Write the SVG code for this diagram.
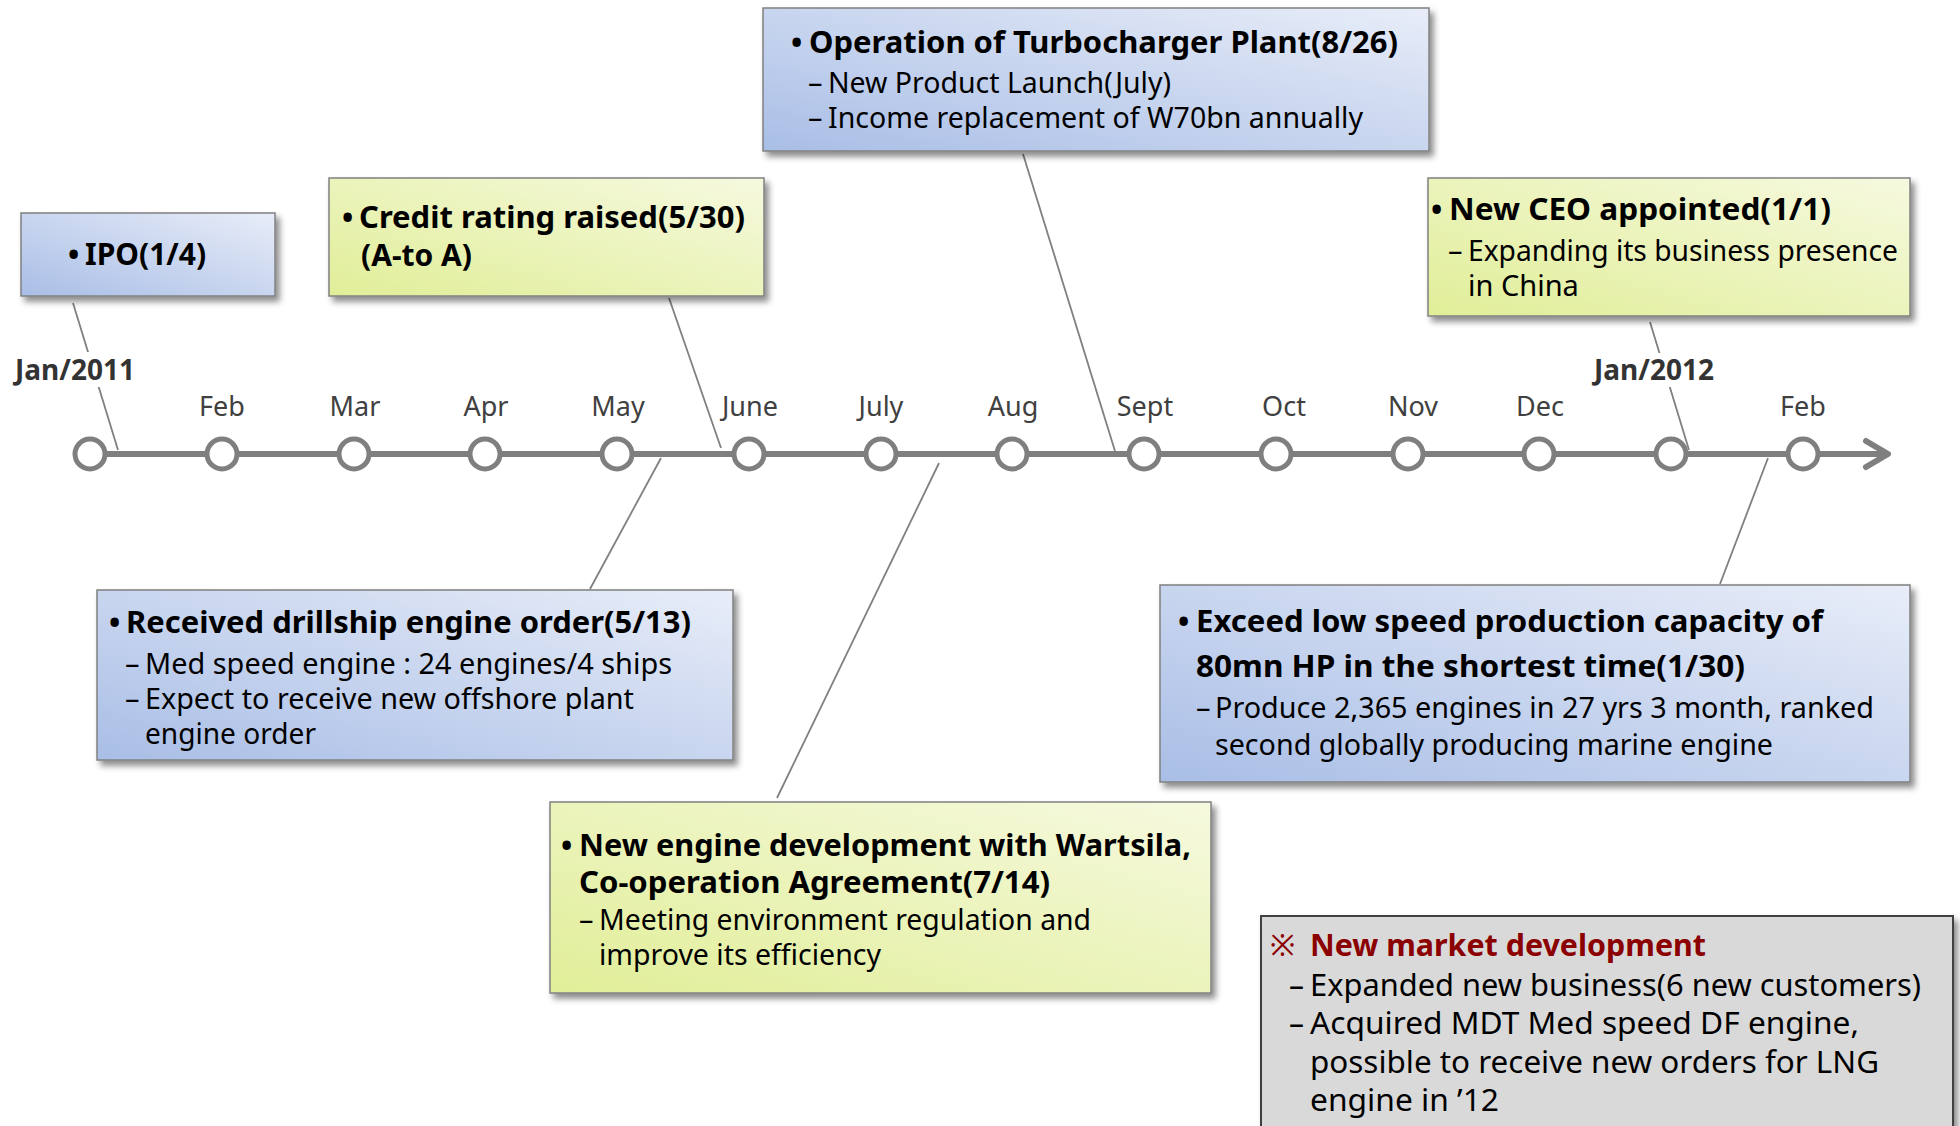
<svg xmlns="http://www.w3.org/2000/svg" width="1960" height="1126" viewBox="0 0 1960 1126">
<defs>
<linearGradient id="gBlue" x1="0" y1="1" x2="1" y2="0">
<stop offset="0" stop-color="#a9bee6"/>
<stop offset="1" stop-color="#e8edf8"/>
</linearGradient>
<linearGradient id="gYel" x1="0" y1="1" x2="1" y2="0">
<stop offset="0" stop-color="#e1ee98"/>
<stop offset="1" stop-color="#f6f9df"/>
</linearGradient>
<filter id="sh" x="-5%" y="-10%" width="115%" height="130%">
<feDropShadow dx="4" dy="5" stdDeviation="3" flood-color="#000" flood-opacity="0.45"/>
</filter>
</defs>
<style>
text{font-family:"Noto Sans","Noto Sans CJK KR",sans-serif;fill:#000}
.t{font-size:30px;font-weight:bold}
.b{font-size:29px}
.m{font-size:30px}
.mon{font-size:27px;fill:#404040}
.jan{font-size:28px;font-weight:bold;fill:#333}
.blue{fill:url(#gBlue);stroke:#808080;stroke-width:1.5}
.yel{fill:url(#gYel);stroke:#808080;stroke-width:1.5}
.con{stroke:#808080;stroke-width:1.8;fill:none}
.node circle{fill:#fff;stroke:#7f7f7f;stroke-width:5}
</style>
<rect width="1960" height="1126" fill="#fff"/>

<g id="connectors">
<line class="con" x1="73" y1="303" x2="118" y2="450"/>
<line class="con" x1="669" y1="298" x2="721" y2="448"/>
<line class="con" x1="1023" y1="154" x2="1115" y2="451"/>
<line class="con" x1="1650" y1="322" x2="1689" y2="450"/>
<line class="con" x1="661" y1="458" x2="590" y2="589"/>
<line class="con" x1="939" y1="463" x2="777" y2="798"/>
<line class="con" x1="1768" y1="458" x2="1720" y2="584"/>
</g>

<g id="timeline">
<line x1="90" y1="454" x2="1886" y2="454" stroke="#7f7f7f" stroke-width="6"/>
<polyline points="1866,441 1888,454 1866,467" fill="none" stroke="#7f7f7f" stroke-width="6" stroke-linecap="round" stroke-linejoin="round"/>
<g class="node">
<circle cx="90" cy="454" r="15"/>
<circle cx="222" cy="454" r="15"/>
<circle cx="354" cy="454" r="15"/>
<circle cx="485" cy="454" r="15"/>
<circle cx="617" cy="454" r="15"/>
<circle cx="749" cy="454" r="15"/>
<circle cx="881" cy="454" r="15"/>
<circle cx="1012" cy="454" r="15"/>
<circle cx="1144" cy="454" r="15"/>
<circle cx="1276" cy="454" r="15"/>
<circle cx="1408" cy="454" r="15"/>
<circle cx="1539" cy="454" r="15"/>
<circle cx="1671" cy="454" r="15"/>
<circle cx="1803" cy="454" r="15"/>
</g>
</g>

<g id="labels" text-anchor="middle">
<rect x="8" y="352" width="134" height="35" fill="#fff"/>
<text class="jan" x="75" y="380">Jan/2011</text>
<rect x="1587" y="353" width="134" height="34" fill="#fff"/>
<text class="jan" x="1654" y="380">Jan/2012</text>
<text class="mon" x="222" y="416">Feb</text>
<text class="mon" x="355" y="416">Mar</text>
<text class="mon" x="486" y="416">Apr</text>
<text class="mon" x="618" y="416">May</text>
<text class="mon" x="750" y="416">June</text>
<text class="mon" x="881" y="416">July</text>
<text class="mon" x="1013" y="416">Aug</text>
<text class="mon" x="1145" y="416">Sept</text>
<text class="mon" x="1284" y="416">Oct</text>
<text class="mon" x="1413" y="416">Nov</text>
<text class="mon" x="1540" y="416">Dec</text>
<text class="mon" x="1803" y="416">Feb</text>
</g>

<g id="ipo">
<rect class="blue" x="21" y="213" width="254" height="83" filter="url(#sh)"/>
<text class="t" x="68" y="265">•</text>
<text class="t" x="85" y="265">IPO(1/4)</text>
</g>

<g id="credit">
<rect class="yel" x="329" y="178" width="435" height="118" filter="url(#sh)"/>
<text class="t" x="342" y="228">•</text>
<text class="t" x="359" y="228" textLength="386" lengthAdjust="spacingAndGlyphs">Credit rating raised(5/30)</text>
<text class="t" x="361" y="266">(A-to A)</text>
</g>

<g id="turbo">
<rect class="blue" x="763" y="8" width="666" height="143" filter="url(#sh)"/>
<text class="t" x="791" y="53">•</text>
<text class="t" x="809" y="53" textLength="589" lengthAdjust="spacingAndGlyphs">Operation of Turbocharger Plant(8/26)</text>
<text class="b" x="808" y="93">–</text>
<text class="b" x="828" y="93" textLength="343" lengthAdjust="spacingAndGlyphs">New Product Launch(July)</text>
<text class="b" x="808" y="128">–</text>
<text class="b" x="828" y="128" textLength="535" lengthAdjust="spacingAndGlyphs">Income replacement of W70bn annually</text>
</g>

<g id="ceo">
<rect class="yel" x="1428" y="178" width="482" height="138" filter="url(#sh)"/>
<text class="t" x="1431" y="220">•</text>
<text class="t" x="1449" y="220" textLength="382" lengthAdjust="spacingAndGlyphs">New CEO appointed(1/1)</text>
<text class="b" x="1448" y="261">–</text>
<text class="b" x="1468" y="261" textLength="430" lengthAdjust="spacingAndGlyphs">Expanding its business presence</text>
<text class="b" x="1468" y="296">in China</text>
</g>

<g id="drillship">
<rect class="blue" x="97" y="590" width="636" height="170" filter="url(#sh)"/>
<text class="t" x="109" y="633">•</text>
<text class="t" x="126" y="633" textLength="565" lengthAdjust="spacingAndGlyphs">Received drillship engine order(5/13)</text>
<text class="b" x="125" y="674">–</text>
<text class="b" x="145" y="674" textLength="527" lengthAdjust="spacingAndGlyphs">Med speed engine : 24 engines/4 ships</text>
<text class="b" x="125" y="709">–</text>
<text class="b" x="145" y="709" textLength="489" lengthAdjust="spacingAndGlyphs">Expect to receive new offshore plant</text>
<text class="b" x="145" y="744" textLength="171" lengthAdjust="spacingAndGlyphs">engine order</text>
</g>

<g id="wartsila">
<rect class="yel" x="550" y="802" width="661" height="191" filter="url(#sh)"/>
<text class="t" x="561" y="856">•</text>
<text class="t" x="579" y="856" textLength="612" lengthAdjust="spacingAndGlyphs">New engine development with Wartsila,</text>
<text class="t" x="579" y="893" textLength="471" lengthAdjust="spacingAndGlyphs">Co-operation Agreement(7/14)</text>
<text class="b" x="579" y="930">–</text>
<text class="b" x="599" y="930" textLength="492" lengthAdjust="spacingAndGlyphs">Meeting environment regulation and</text>
<text class="b" x="599" y="965" textLength="282" lengthAdjust="spacingAndGlyphs">improve its efficiency</text>
</g>

<g id="exceed">
<rect class="blue" x="1160" y="585" width="750" height="197" filter="url(#sh)"/>
<text class="t" x="1178" y="632">•</text>
<text class="t" x="1196" y="632" textLength="627" lengthAdjust="spacingAndGlyphs">Exceed low speed production capacity of</text>
<text class="t" x="1196" y="677" textLength="549" lengthAdjust="spacingAndGlyphs">80mn HP in the shortest time(1/30)</text>
<text class="b" x="1196" y="718">–</text>
<text class="b" x="1215" y="718" textLength="659" lengthAdjust="spacingAndGlyphs">Produce 2,365 engines in 27 yrs 3 month, ranked</text>
<text class="b" x="1215" y="755" textLength="558" lengthAdjust="spacingAndGlyphs">second globally producing marine engine</text>
</g>

<g id="newmarket">
<rect x="1261" y="916" width="692" height="216" fill="#d9d9d9" stroke="#404040" stroke-width="2" filter="url(#sh)"/>
<text class="m" x="1270" y="956" style="fill:#8b0000">※</text>
<text class="t" x="1310" y="956" style="fill:#8b0000" textLength="396" lengthAdjust="spacingAndGlyphs">New market development</text>
<text class="m" x="1289" y="996">–</text>
<text class="m" x="1310" y="996" textLength="611" lengthAdjust="spacingAndGlyphs">Expanded new business(6 new customers)</text>
<text class="m" x="1289" y="1034">–</text>
<text class="m" x="1310" y="1034" textLength="549" lengthAdjust="spacingAndGlyphs">Acquired MDT Med speed DF engine,</text>
<text class="m" x="1310" y="1073" textLength="569" lengthAdjust="spacingAndGlyphs">possible to receive new orders for LNG</text>
<text class="m" x="1310" y="1111" textLength="189" lengthAdjust="spacingAndGlyphs">engine in ’12</text>
</g>
</svg>
